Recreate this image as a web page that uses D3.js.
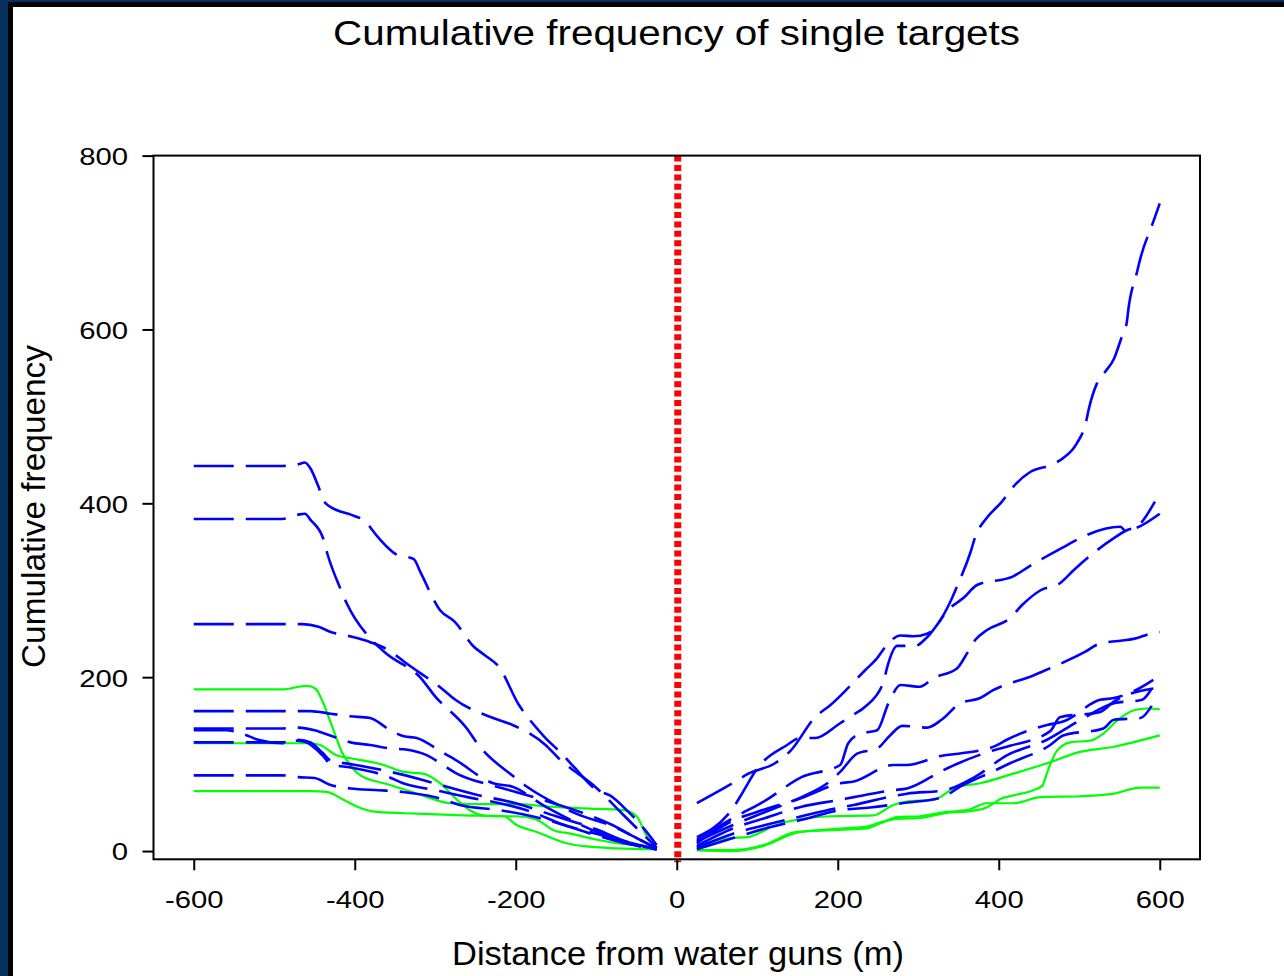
<!DOCTYPE html>
<html><head><meta charset="utf-8">
<script src="https://cdn.jsdelivr.net/npm/d3@7"></script>
<style>
html,body{margin:0;padding:0;background:#fff;}
svg{display:block;}
text{font-family:"Liberation Sans",Arial,sans-serif;fill:#000;}
</style></head>
<body>
<svg id="chart" width="1284" height="976"></svg>
<script>
// ---------- DATA ----------
const title = "Cumulative frequency of single targets";
const xLabel = "Distance from water guns (m)";
const yLabel = "Cumulative frequency";
const xTicks = [-600, -400, -200, 0, 200, 400, 600];
const yTicks = [0, 200, 400, 600, 800];
const guideX = 0; // position of water guns

// left side (upstream) - blue dashed curves
const blueLeft1 = [[-600,443],[-490,443],[-470,445],[-462,447],[-455,440],[-445,419],[-438,402],[-422,392],[-405,387],[-387,379],[-372,362],[-348,341],[-327,336],[-318,320],[-294,277],[-276,264],[-252,235],[-238,225],[-221,212],[-196,168],[-186,155],[-165,132],[-143,112],[-128,97],[-99,70],[-83,64],[-60,45],[-40,25],[-25,7]];
const blueLeft2 = [[-600,382],[-490,382],[-470,387],[-462,388],[-455,381],[-439,359],[-434,342],[-417,300],[-410,285],[-379,243],[-362,228],[-316,197],[-302,180],[-260,140],[-248,124],[-203,86],[-186,74],[-143,51],[-125,43],[-78,28],[-50,15],[-25,3]];
const blueLeft3 = [[-600,261],[-490,261],[-465,261],[-445,258],[-430,252],[-406,247],[-380,240],[-356,230],[-339,218],[-292,187],[-275,174],[-228,153],[-204,145],[-163,122],[-147,107],[-99,72],[-70,45],[-45,22],[-25,4]];
const blueLeft4 = [[-600,161],[-455,161],[-430,158],[-406,155],[-381,153],[-356,139],[-339,132],[-323,130],[-292,114],[-275,105],[-228,78],[-204,74],[-163,51],[-147,43],[-99,22],[-60,10],[-25,2]];
const blueLeft5 = [[-600,141],[-490,141],[-470,142],[-450,139],[-428,132],[-405,125],[-381,122],[-356,118],[-339,117],[-310,110],[-292,100],[-275,90],[-228,75],[-200,68],[-160,57],[-120,45],[-80,30],[-50,15],[-25,3]];
const blueLeft6 = [[-600,139],[-560,139],[-540,135],[-520,128],[-490,124],[-470,127],[-460,125],[-440,110],[-430,100],[-405,96],[-360,86],[-340,78],[-300,70],[-260,62],[-220,55],[-180,45],[-140,30],[-100,20],[-60,10],[-25,2]];
const blueLeft7 = [[-600,125],[-490,125],[-470,128],[-455,125],[-440,113],[-430,104],[-405,100],[-360,92],[-320,83],[-290,75],[-250,65],[-200,55],[-150,40],[-100,25],[-60,10],[-25,2]];
const blueLeft8 = [[-600,87],[-490,87],[-470,85],[-450,84],[-430,76],[-405,72],[-370,70],[-340,68],[-300,62],[-265,52],[-220,47],[-180,40],[-140,30],[-100,18],[-60,8],[-25,2]];

// left side - green solid curves
const greenLeft1 = [[-600,186],[-488,186],[-470,189],[-459,190],[-449,187],[-439,170],[-428,143],[-416,114],[-406,99],[-393,87],[-381,82],[-364,78],[-339,71],[-310,62],[-281,55],[-240,54],[-199,54],[-157,51],[-116,49],[-66,47],[-50,40],[-37,17],[-25,3]];
const greenLeft2 = [[-600,124],[-455,124],[-443,122],[-422,110],[-406,107],[-364,99],[-339,91],[-315,89],[-294,78],[-273,59],[-257,47],[-232,40],[-199,40],[-174,36],[-153,24],[-132,20],[-99,13],[-74,9],[-54,7],[-25,3]];
const greenLeft3 = [[-600,69],[-455,69],[-435,68],[-414,59],[-397,51],[-372,45],[-323,43],[-265,41],[-215,40],[-199,30],[-174,22],[-137,9],[-108,5],[-74,3],[-25,2]];

// right side (downstream) - blue dashed curves
const blueRight1 = [[25,55],[73,80],[89,89],[122,101],[141,115],[172,154],[191,168],[234,208],[249,222],[261,237],[278,248],[294,247],[311,250],[340,287],[348,304],[365,344],[371,362],[385,383],[404,402],[418,419],[439,436],[464,444],[480,452],[497,469],[508,492],[512,509],[522,538],[532,551],[543,566],[553,592],[559,608],[561,623],[572,667],[576,682],[592,724],[600,745]];
const blueRight2 = [[25,13],[70,38],[110,58],[155,85],[203,99],[213,124],[228,135],[249,139],[263,170],[278,191],[302,189],[319,199],[348,210],[361,228],[371,243],[385,254],[414,268],[429,283],[452,300],[476,308],[493,323],[543,360],[559,369],[574,375],[594,402]];
const blueRight3 = [[25,16],[71,51],[81,66],[100,95],[137,122],[153,130],[172,130],[203,147],[220,157],[234,166],[257,195],[261,210],[274,236],[296,236],[311,246],[340,280],[356,291],[373,306],[418,316],[437,327],[485,352],[501,360],[551,373],[557,369],[600,388]];
const blueRight4 = [[25,11],[70,30],[110,45],[155,62],[190,80],[203,91],[224,112],[249,118],[265,133],[280,144],[311,142],[329,151],[352,170],[377,176],[393,185],[443,202],[458,208],[507,229],[524,238],[572,245],[588,250],[600,252]];
const blueRight5 = [[25,9],[70,35],[110,48],[155,61],[203,78],[220,80],[269,99],[286,99],[331,110],[350,112],[396,121],[410,128],[460,145],[480,149],[526,174],[543,176],[570,185],[592,197]];
const blueRight6 = [[25,6],[70,26],[110,38],[155,51],[203,59],[220,62],[269,70],[286,72],[331,93],[350,101],[394,116],[414,121],[464,138],[476,154],[526,160],[543,172],[592,187]];
const blueRight7 = [[25,4],[70,20],[110,30],[155,40],[203,50],[220,53],[262,62],[286,66],[333,70],[370,85],[410,110],[460,128],[500,150],[543,170],[578,174],[590,187]];
const blueRight8 = [[25,2],[70,15],[110,26],[155,36],[203,47],[240,50],[280,55],[330,62],[352,74],[396,93],[414,101],[464,122],[480,133],[530,141],[543,151],[576,153],[590,167]];

// right side - green solid curves
const greenRight1 = [[25,1],[66,0],[108,6],[149,21],[190,25],[236,28],[253,33],[274,37],[302,38],[336,44],[365,46],[385,50],[402,60],[418,64],[443,70],[454,75],[460,90],[472,115],[489,125],[514,127],[530,135],[547,150],[568,162],[584,164],[600,163]];
const greenRight2 = [[25,3],[66,15],[87,16],[129,32],[149,36],[191,40],[244,41],[269,53],[286,57],[319,59],[348,74],[377,78],[418,89],[460,101],[501,114],[543,120],[600,133]];
const greenRight3 = [[25,1],[66,1],[108,7],[149,22],[191,24],[236,26],[253,32],[274,39],[302,40],[336,45],[361,47],[385,55],[418,55],[452,62],[501,63],[543,66],[576,73],[600,73]];

const blueSeries = [blueLeft1,blueLeft2,blueLeft3,blueLeft4,blueLeft5,blueLeft6,blueLeft7,blueLeft8,
                    blueRight1,blueRight2,blueRight3,blueRight4,blueRight5,blueRight6,blueRight7,blueRight8];
const greenSeries = [greenLeft1,greenLeft2,greenLeft3,greenRight1,greenRight2,greenRight3];

// ---------- DRAW ----------
const svg = d3.select("#chart");
const W = 1284, H = 976;
// page background & border
svg.append("rect").attr("width",W).attr("height",H).attr("fill","#03305c");
svg.append("rect").attr("x",8).attr("y",2).attr("width",W-8).attr("height",H-2).attr("fill","#000");
svg.append("rect").attr("x",13).attr("y",7).attr("width",W-13).attr("height",H-7).attr("fill","#fff");

const x = d3.scaleLinear().domain([-650,650]).range([153.5,1200]);
const y = d3.scaleLinear().domain([-9.5,800]).range([859.3,155.6]);

// data lines
const line = d3.line().x(d=>x(d[0])).y(d=>y(d[1])).curve(d3.curveMonotoneX);
const plot = svg.append("g");
plot.selectAll("path.g").data(greenSeries).join("path").attr("class","g")
  .attr("d",line).attr("fill","none").attr("stroke","#00ff00").attr("stroke-width",2.2);
plot.selectAll("path.b").data(blueSeries).join("path").attr("class","b")
  .attr("d",line).attr("fill","none").attr("stroke","#0000ff").attr("stroke-width",2.6)
  .attr("stroke-dasharray","40,12");

// red guide line
svg.append("line").attr("x1",x(guideX)+1).attr("x2",x(guideX)+1)
  .attr("y1",y(800)).attr("y2",y(-9.5)+3)
  .attr("stroke","#ff0000").attr("stroke-width",7).attr("stroke-dasharray","6,3.4");

// frame
svg.append("rect").attr("x",x(-650)).attr("y",y(800)).attr("width",x(650)-x(-650)).attr("height",y(-9.5)-y(800))
  .attr("fill","none").attr("stroke","#000").attr("stroke-width",2);

// axes
const xAxis = svg.append("g").attr("transform",`translate(0,${y(-9.5)})`)
  .call(d3.axisBottom(x).tickValues(xTicks).tickFormat(d3.format("d")).tickSize(11).tickPadding(20.5).tickSizeOuter(0));
const yAxis = svg.append("g").attr("transform",`translate(${x(-650)},0)`)
  .call(d3.axisLeft(y).tickValues(yTicks).tickFormat(d3.format("d")).tickSize(11).tickPadding(14.5).tickSizeOuter(0));
[xAxis,yAxis].forEach(a=>{
  a.select(".domain").remove();
  a.selectAll(".tick line").attr("stroke","#000").attr("stroke-width",2);
  a.selectAll(".tick text").attr("font-family","Liberation Sans, Arial, sans-serif").attr("font-size",24).attr("fill","#000")
    .text(d=>String(d).replace("\u2212","-"))
    .each(function(){ const L=this.getComputedTextLength(); d3.select(this).attr("textLength",L*1.22).attr("lengthAdjust","spacingAndGlyphs"); });
});
yAxis.selectAll(".tick text").attr("dy","0.37em");

// titles
svg.append("text").attr("x",676.5).attr("y",45).attr("text-anchor","middle").attr("font-size",35)
  .attr("textLength",687).attr("lengthAdjust","spacingAndGlyphs").text(title);
svg.append("text").attr("x",678).attr("y",965).attr("text-anchor","middle").attr("font-size",34)
  .attr("textLength",452).attr("lengthAdjust","spacingAndGlyphs").text(xLabel);
svg.append("text").attr("transform","translate(45,506.5) rotate(-90)").attr("text-anchor","middle").attr("font-size",33)
  .attr("textLength",323).attr("lengthAdjust","spacingAndGlyphs").text(yLabel);
</script>
</body></html>
